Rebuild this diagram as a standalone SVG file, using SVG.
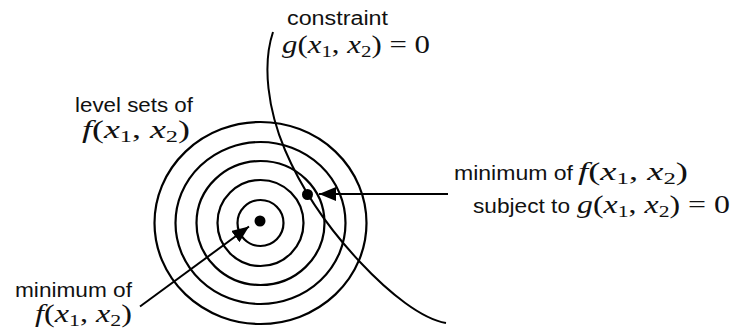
<svg xmlns="http://www.w3.org/2000/svg" width="738" height="332" viewBox="0 0 738 332">
<style>
.ring{fill:none;stroke:#000;stroke-width:2.2}
.curve{fill:none;stroke:#000;stroke-width:2}
.arr{fill:none;stroke:#000;stroke-width:2;marker-end:url(#ah)}
.t{font-family:"Liberation Sans",Arial,sans-serif;font-size:20px;fill:#111}
.m{font-family:"Liberation Serif","Times New Roman",serif;font-size:25px;fill:#111}
.i{font-style:italic}
.s{font-size:17px}
</style>
<defs>
<marker id="ah" markerUnits="userSpaceOnUse" markerWidth="18" markerHeight="14" refX="17" refY="7" orient="auto">
<path d="M0,0 L17,7 L0,14 z" fill="#000"/>
</marker>
</defs>
<g id="levelsets">
<ellipse class="ring" cx="260.5" cy="223" rx="23" ry="23"/>
<ellipse class="ring" cx="260.5" cy="223" rx="43" ry="43"/>
<ellipse class="ring" cx="260.5" cy="223" rx="64" ry="62"/>
<ellipse class="ring" cx="260.5" cy="223" rx="85" ry="81"/>
<ellipse class="ring" cx="260.5" cy="223" rx="106" ry="101"/>
</g>
<g id="constraint-curve">
<path class="curve" d="M273,32 C262,65 268,110 285,150 S330,230 360,262 S422,319 446,323"/>
</g>
<g id="unconstrained-min">
<circle cx="260" cy="221" r="5.5" fill="#000"/>
</g>
<g id="constrained-min">
<circle cx="307.5" cy="194.5" r="5.5" fill="#000"/>
</g>
<g id="connectors">
<line class="arr" x1="140" y1="306.5" x2="249" y2="226.5"/>
<line class="arr" x1="448" y1="194" x2="319" y2="194"/>
</g>
<g id="label-constraint">
<text class="t" x="287" y="25" textLength="101" lengthAdjust="spacingAndGlyphs">constraint</text>
<text class="m" x="282" y="53" textLength="148" lengthAdjust="spacingAndGlyphs"><tspan class="i">g</tspan>(<tspan class="i">x</tspan><tspan class="s" dy="4">1</tspan><tspan dy="-4">, </tspan><tspan class="i">x</tspan><tspan class="s" dy="4">2</tspan><tspan dy="-4">) = 0</tspan></text>
</g>
<g id="label-levelsets">
<text class="t" x="75" y="111.5" textLength="118" lengthAdjust="spacingAndGlyphs">level sets of</text>
<text class="m" x="82" y="138" textLength="108" lengthAdjust="spacingAndGlyphs"><tspan class="i">f</tspan>(<tspan class="i">x</tspan><tspan class="s" dy="4">1</tspan><tspan dy="-4">, </tspan><tspan class="i">x</tspan><tspan class="s" dy="4">2</tspan><tspan dy="-4">)</tspan></text>
</g>
<g id="label-min">
<text class="t" x="15" y="296.5" textLength="117" lengthAdjust="spacingAndGlyphs">minimum of</text>
<text class="m" x="35" y="321.5" textLength="97" lengthAdjust="spacingAndGlyphs"><tspan class="i">f</tspan>(<tspan class="i">x</tspan><tspan class="s" dy="4">1</tspan><tspan dy="-4">, </tspan><tspan class="i">x</tspan><tspan class="s" dy="4">2</tspan><tspan dy="-4">)</tspan></text>
</g>
<g id="label-constrained-min">
<text class="t" x="454" y="180" textLength="119" lengthAdjust="spacingAndGlyphs">minimum of</text>
<text class="m" x="578" y="180" textLength="110" lengthAdjust="spacingAndGlyphs"><tspan class="i">f</tspan>(<tspan class="i">x</tspan><tspan class="s" dy="4">1</tspan><tspan dy="-4">, </tspan><tspan class="i">x</tspan><tspan class="s" dy="4">2</tspan><tspan dy="-4">)</tspan></text>
<text class="t" x="473" y="212.5" textLength="97" lengthAdjust="spacingAndGlyphs">subject to</text>
<text class="m" x="577" y="212.5" textLength="153" lengthAdjust="spacingAndGlyphs"><tspan class="i">g</tspan>(<tspan class="i">x</tspan><tspan class="s" dy="4">1</tspan><tspan dy="-4">, </tspan><tspan class="i">x</tspan><tspan class="s" dy="4">2</tspan><tspan dy="-4">) = 0</tspan></text>
</g>
</svg>
